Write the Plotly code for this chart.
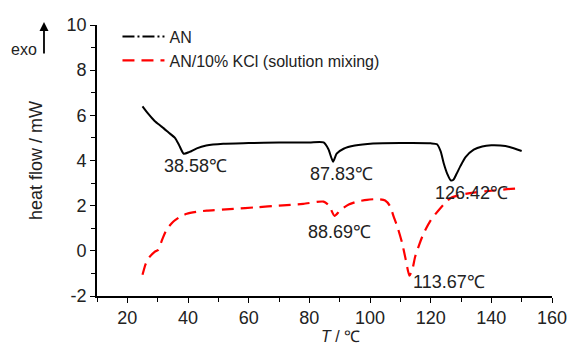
import plotly.graph_objects as go

# ---- data ----
an_T = [25.0, 27.0, 29.0, 31.3, 33.5, 35.7, 37.0, 38.58, 40.5, 42.9, 46.0, 51.6, 60.0, 70.0,
        80.0, 84.7, 86.3, 87.83, 89.0, 91.3, 95.0, 101.0, 110.0, 120.0, 122.1, 123.3, 124.3,
        125.5, 126.6, 127.5, 128.5, 129.8, 131.5, 134.2, 137.0, 140.0, 143.0, 146.0, 150.0]
an_hf = [6.40, 6.05, 5.75, 5.50, 5.25, 5.00, 4.70, 4.30, 4.38, 4.54, 4.66, 4.74, 4.77, 4.80,
         4.80, 4.80, 4.50, 3.95, 4.30, 4.52, 4.66, 4.75, 4.77, 4.76, 4.72, 4.40, 3.88,
         3.40, 3.12, 3.15, 3.40, 3.75, 4.15, 4.48, 4.62, 4.67, 4.66, 4.60, 4.42]

kcl_T = [25.0, 26.0, 27.0, 29.0, 30.2, 31.5, 33.0, 35.2, 37.5, 39.6, 43.0, 46.2, 55.0, 62.7,
         70.0, 78.0, 84.7, 86.5, 88.3, 90.2, 93.0, 95.7, 99.0, 102.3, 105.0, 106.5, 107.8,
         109.3, 110.6, 111.8, 113.0, 114.0, 114.9, 116.3, 117.7, 120.0, 123.2, 126.5, 130.0,
         134.2, 140.0, 145.2, 150.0]
kcl_hf = [-1.06, -0.60, -0.32, -0.05, 0.05, 0.50, 0.95, 1.30, 1.52, 1.64, 1.73, 1.78, 1.86, 1.93,
          2.00, 2.08, 2.18, 2.00, 1.55, 1.80, 2.05, 2.18, 2.26, 2.29, 2.23, 2.00, 1.52,
          0.95, 0.34, -0.40, -1.10, -0.80, -0.25, 0.30, 0.78, 1.35, 1.89, 2.33, 2.48,
          2.58, 2.66, 2.73, 2.77]

peak_labels = ["38.58℃", "87.83℃", "126.42℃", "88.69℃", "113.67℃"]
peak_label_T = [42.5, 90.6, 133.5, 90.1, 126.0]
peak_label_hf = [3.75, 3.40, 2.54, 0.85, -1.38]

x_tickvals = [20, 40, 60, 80, 100, 120, 140, 160]
x_ticktext = ["20", "40", "60", "80", "100", "120", "140", "160"]
y_tickvals = [-2, 0, 2, 4, 6, 8, 10]
y_ticktext = ["-2", "0", "2", "4", "6", "8", "10"]

FONT = "Liberation Sans, Arial, sans-serif"

fig = go.Figure()

# legend-only entry showing the dash-dot style
fig.add_trace(go.Scatter(x=[None], y=[None], mode="lines", name="AN",
                         line=dict(color="black", width=2, dash="12px,3px,2px,3px"),
                         legendgroup="a"))
fig.add_trace(go.Scatter(x=an_T, y=an_hf, mode="lines", name="AN", showlegend=False,
                         line=dict(color="black", width=2, shape="spline", smoothing=0.6),
                         legendgroup="a"))
fig.add_trace(go.Scatter(x=kcl_T, y=kcl_hf, mode="lines", name="AN/10% KCl (solution mixing)",
                         line=dict(color="#ff0000", width=2.2, dash="12px,7px",
                                   shape="spline", smoothing=0.6),
                         legendgroup="b"))

for txt, tx, ty in zip(peak_labels, peak_label_T, peak_label_hf):
    fig.add_annotation(x=tx, y=ty, text=txt, showarrow=False,
                       font=dict(family=FONT, size=18, color="#222222"))

# exo arrow
fig.add_annotation(xref="paper", yref="paper", x=-0.1165, y=1.011, ax=0, ay=33,
                   text="", showarrow=True, arrowhead=2, arrowsize=1, arrowwidth=1.8,
                   arrowcolor="black")
fig.add_annotation(xref="paper", yref="paper", x=-0.1275, y=0.95, text="exo",
                   showarrow=False, xanchor="right",
                   font=dict(family=FONT, size=16, color="#222222"))

# x-axis title
fig.add_annotation(xref="paper", yref="paper", x=0.536, y=-0.112, yanchor="top",
                   text="<i>T</i> / ℃", showarrow=False,
                   font=dict(family=FONT, size=16, color="#222222"))

axis_common = dict(showline=True, linecolor="black", linewidth=1.6, mirror=False,
                   showgrid=False, zeroline=False, ticks="outside", ticklen=5,
                   tickwidth=1.4, tickcolor="black", ticklabeloverflow="allow",
                   automargin=False,
                   tickfont=dict(family=FONT, size=18, color="#222222"))

fig.update_xaxes(range=[10, 160], tickvals=x_tickvals, ticktext=x_ticktext,
                 minor=dict(ticks="outside", ticklen=4, dtick=10, tick0=10,
                            tickcolor="black", tickwidth=1.4),
                 **axis_common)
fig.update_yaxes(range=[-2, 10], tickvals=y_tickvals, ticktext=y_ticktext,
                 minor=dict(ticks="outside", ticklen=4, dtick=1, tick0=0,
                            tickcolor="black", tickwidth=1.4),
                 title=dict(text="heat flow / mW", standoff=19,
                            font=dict(family=FONT, size=18, color="#222222")),
                 **axis_common)

fig.update_layout(
    width=567, height=345,
    margin=dict(l=97, r=15, t=25, b=49),
    paper_bgcolor="white", plot_bgcolor="white",
    showlegend=True,
    legend=dict(x=0.045, y=1.02, xanchor="left", yanchor="top",
                bgcolor="rgba(0,0,0,0)", borderwidth=0, tracegroupgap=0,
                itemwidth=42,
                font=dict(family=FONT, size=16, color="#222222")),
)

fig.write_html("out.html")
